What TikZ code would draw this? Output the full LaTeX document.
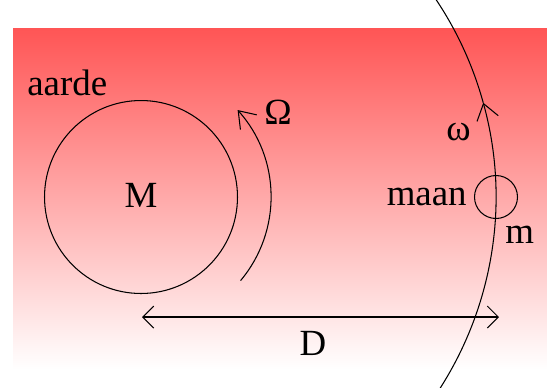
\documentclass[tikz,border=0pt]{standalone}
\usepackage{fontspec}
\setmainfont{Liberation Serif}
\usetikzlibrary{arrows.meta,positioning}
\definecolor{skyred}{RGB}{255,85,85}

\begin{document}
\begin{tikzpicture}[
    x=0.02cm, y=0.02cm,
    body/.style={draw, circle, inner sep=0pt, line width=0.6pt},
    lbl/.style={font=\fontsize{21}{23}\selectfont, inner sep=0pt},
    spin/.style={line width=0.6pt, -{Straight Barb[length=0.31cm, width=0.44cm]}},
    dist/.style={line width=0.6pt, {Straight Barb[length=0.22cm, width=0.44cm]}-{Straight Barb[length=0.22cm, width=0.44cm]}}
]
    \useasboundingbox (0,0) rectangle (547,-387);
    \shade[top color=skyred, bottom color=white] (13,-28) rectangle (547,-369);

    \node[body, minimum size=3.86cm] (aarde) at (141,-197) {};
    \node[lbl] (M) at ([yshift=-0.2cm]aarde.center) [anchor=base] {M};
    \node[lbl, anchor=base west] (aardelbl) at (27,-95) {aarde};

    \draw[spin] ([shift={(-40:130)}]aarde.center) arc[start angle=-40, end angle=42, radius=130];
    \node[lbl, anchor=base west] (Omega) at (264,-124) {Ω};

    \draw[spin] ([shift={(-34:355)}]aarde.center) arc[start angle=-34, end angle=15.4, radius=355];
    \draw[line width=0.6pt] ([shift={(15.4:355)}]aarde.center) arc[start angle=15.4, end angle=34, radius=355];
    \node[lbl, anchor=base west] (omega) at (446,-140) {ω};

    \node[body, minimum size=0.86cm] (maan) at ([shift={(0:355)}]aarde.center) {};
    \node[lbl, anchor=base east] (maanlbl) at (467,-205) {maan};
    \node[lbl, anchor=base west] (m) at (505,-243) {m};

    \coordinate (dl) at (142,-317);
    \coordinate (dr) at (499,-317);
    \draw[dist] (dl) -- (dr);
    \node[lbl, anchor=base] (D) at (313,-355) {D};
\end{tikzpicture}
\end{document}
